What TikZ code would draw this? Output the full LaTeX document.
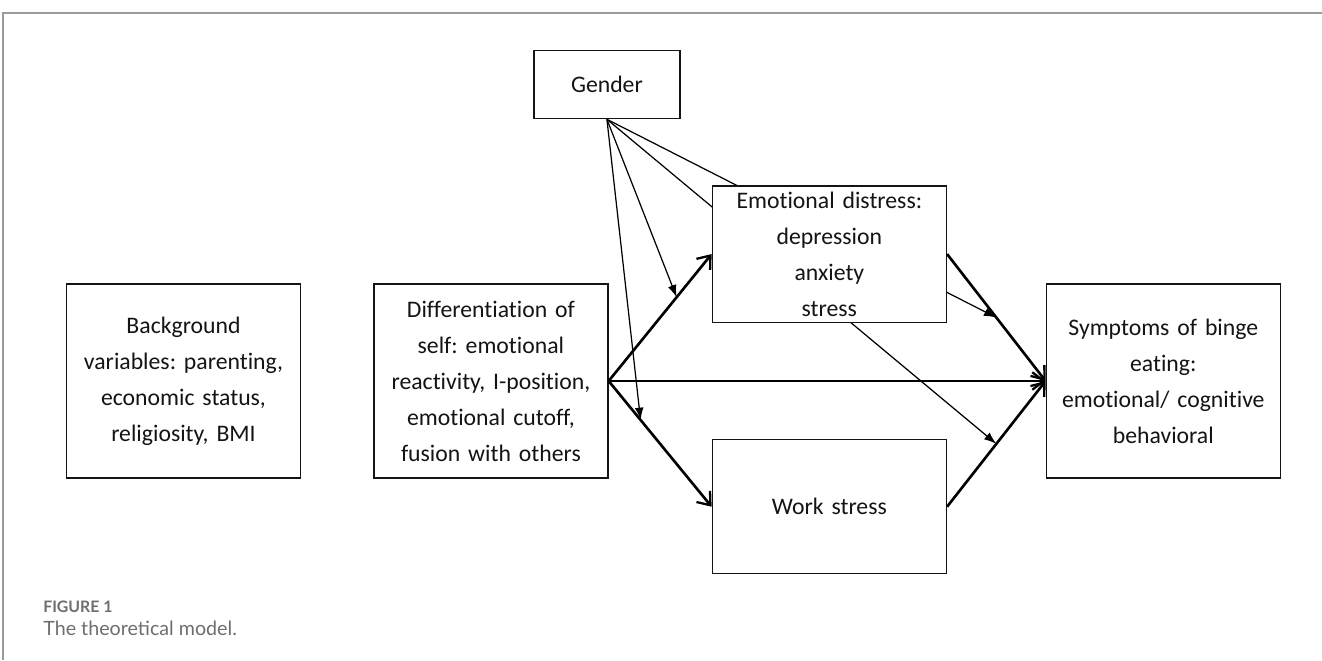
\documentclass[tikz,border=0pt]{standalone}
\usepackage{fontspec}
\setmainfont{Carlito}[Ligatures=NoCommon]
\newfontfamily\capfont{Lato}
\usepackage{tikz}
\usetikzlibrary{arrows.meta, positioning, calc, backgrounds}
\frenchspacing

\definecolor{framegray}{HTML}{9A9A9A}
\definecolor{capgray}{HTML}{6E6E6E}
\definecolor{inkdark}{HTML}{141414}

\begin{document}
\begin{tikzpicture}[x=0.02cm, y=-0.02cm, node distance=1.44cm, >=Latex]
    % Styles
    \tikzstyle{box} = [rectangle, draw=inkdark, line width=0.85pt, fill=white, text=inkdark, text width=4.4cm, text centered, minimum width=4.68cm, minimum height=3.88cm, font=\fontsize{13.5}{20.5}\selectfont]
    \tikzstyle{midbox} = [box, minimum height=2.68cm]
    \tikzstyle{smallbox} = [box, text width=2.6cm, minimum width=2.92cm, minimum height=1.36cm]
    \tikzstyle{path} = [draw=black, line width=1.5pt, -{Straight Barb[length=6.5pt, width=10pt, line width=1.3pt]}]
    \tikzstyle{moderator} = [draw=black, line width=0.7pt, -{Latex[length=7pt, width=5pt]}]
    \tikzstyle{frame} = [draw=framegray, line width=1pt]

    \useasboundingbox (0,0) rectangle (1322,660);

    % Nodes
    \node [box] (bg) at (183.5,381) {Background\\ variables: parenting,\\ economic status,\\ religiosity, BMI};
    \node [box, right=of bg] (diff) {Differentiation of\\ self: emotional\\ reactivity, I-position,\\ emotional cutoff,\\ fusion with others};
    \node [box, right=8.74cm of diff] (sym) {Symptoms of binge\\ eating:\\ emotional/ cognitive\\ behavioral};
    \node [midbox, above right=1.16cm and 2.06cm of diff.east] (ed) {Emotional distress:\\ depression\\ anxiety\\ stress};
    \node [midbox, below right=1.16cm and 2.06cm of diff.east] (ws) {Work stress};
    \node [smallbox, above=3.28cm of diff, xshift=2.32cm] (gender) {Gender};

    % Paths
    \path [path] (diff.east) -- coordinate[pos=0.66] (dtoe) (ed.west);
    \path [path] (diff.east) -- coordinate[pos=0.31] (dtow) (ws.west);
    \path [path] (diff.east) -- (sym.west);
    \path [path] (ed.east) -- coordinate[pos=0.5] (etos) (sym.west);
    \path [path] (ws.east) -- coordinate[pos=0.5] (wtos) (sym.west);

    % Gender moderation
    \path [moderator] (gender.south) -- (dtoe);
    \path [moderator] (gender.south) -- (dtow);
    \begin{scope}[on background layer]
        \path [moderator] (gender.south) -- (etos);
        \path [moderator] (gender.south) -- (wtos);
    \end{scope}

    % Frame and caption
    \coordinate (corner) at (3,13);
    \path [frame] (1322,13) -- (corner) -- (3,660);
    \node [anchor=west, inner sep=0pt, text=capgray, font=\capfont\bfseries\fontsize{9}{11}\selectfont] (figno) at (43,607) {FIGURE 1};
    \node [anchor=west, inner sep=0pt, text=capgray, font=\capfont\fontsize{11.2}{13}\selectfont] (caption) at (43,628) {The theoretical model.};
\end{tikzpicture}
\end{document}
